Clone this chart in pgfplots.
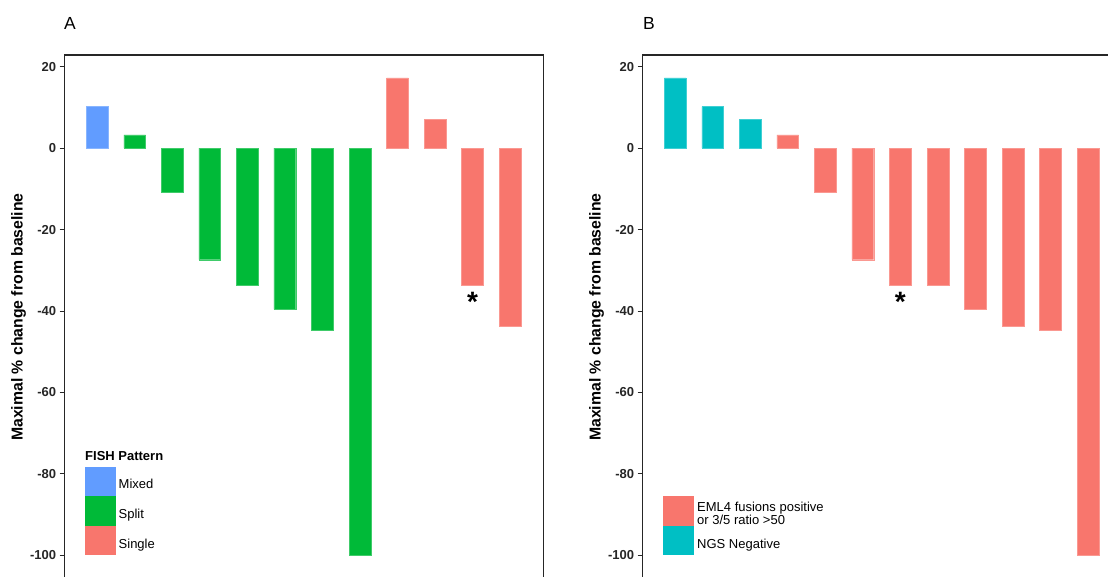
\documentclass[border=0pt]{standalone}
\usepackage{fontspec}
\setmainfont{Liberation Sans}
\usepackage{pgfplots}
\pgfplotsset{compat=1.18}
\definecolor{gblue}{HTML}{619CFF}
\definecolor{ggreen}{HTML}{00BA38}
\definecolor{gred}{HTML}{F8766D}
\definecolor{gcyan}{HTML}{00BFC4}
\pgfplotsset{wf/.style={
  scale only axis, width=478.6pt, height=524.2pt,
  xmin=0.134, xmax=12.887, ymin=-105.9, ymax=22.9,
  xtick=\empty, ytick={-100,-80,...,20},
  axis line style={line width=1.3pt, draw=black!85},
  tick style={line width=1pt, draw=black!85},
  tick align=outside, major tick length=5pt, ytick pos=left,
  /pgf/number format/assume math mode=true,
  yticklabel style={font=\fontsize{13}{15}\selectfont\bfseries, text=black!85},
  ylabel={Maximal \% change from baseline},
  ylabel style={font=\fontsize{15.8}{17}\selectfont\bfseries, at={(axis description cs:-0.0965,0.5)}, anchor=center},
  clip=false,
}}
\begin{document}
\begin{tikzpicture}
\useasboundingbox (0pt,0pt) rectangle (1108pt,-576pt);
% Panel A
\begin{axis}[wf, anchor=north west, at={(64.7pt,-55pt)}]
\addplot[ybar, bar width=0.58, bar shift=0pt, fill=gblue, draw=gblue!75!white, line width=0.4pt] coordinates {(1,10.2)};
\addplot[ybar, bar width=0.58, bar shift=0pt, fill=ggreen, draw=ggreen!75!white, line width=0.4pt] coordinates {(2,3.3) (3,-10.7) (4,-27.4) (5,-33.6) (6,-39.6) (7,-44.7) (8,-100)};
\addplot[ybar, bar width=0.58, bar shift=0pt, fill=gred, draw=gred!75!white, line width=0.4pt] coordinates {(9,17.3) (10,7.1) (11,-33.6) (12,-43.7)};
\node[anchor=base, inner sep=0pt, font=\fontsize{28}{28}\selectfont\bfseries] at (axis cs:11,-40.2) {*};
\end{axis}
% Panel B
\begin{axis}[wf, anchor=north west, at={(642.7pt,-55pt)}]
\addplot[ybar, bar width=0.58, bar shift=0pt, fill=gcyan, draw=gcyan!75!white, line width=0.4pt] coordinates {(1,17.3) (2,10.2) (3,7.1)};
\addplot[ybar, bar width=0.58, bar shift=0pt, fill=gred, draw=gred!75!white, line width=0.4pt] coordinates {(4,3.3) (5,-10.7) (6,-27.4) (7,-33.6) (8,-33.6) (9,-39.6) (10,-43.7) (11,-44.7) (12,-100)};
\node[anchor=base, inner sep=0pt, font=\fontsize{28}{28}\selectfont\bfseries] at (axis cs:7,-40.2) {*};
\end{axis}
% titles
\node[anchor=base west, inner sep=0pt, font=\fontsize{17.5}{18}\selectfont] at (64pt,-29.3pt) {A};
\node[anchor=base west, inner sep=0pt, font=\fontsize{17.5}{18}\selectfont] at (643pt,-29.3pt) {B};
% legend A
\node[anchor=base west, inner sep=0pt, font=\fontsize{13}{15}\selectfont\bfseries] at (85pt,-460.3pt) {FISH Pattern};
\fill[gblue] (85pt,-466.7pt) rectangle (116pt,-496.3pt);
\fill[ggreen] (85pt,-496.3pt) rectangle (116pt,-526pt);
\fill[gred] (85pt,-526pt) rectangle (116pt,-555.3pt);
\node[anchor=base west, inner sep=0pt, font=\fontsize{13}{15}\selectfont] at (118.5pt,-488.3pt) {Mixed};
\node[anchor=base west, inner sep=0pt, font=\fontsize{13}{15}\selectfont] at (118.5pt,-518.6pt) {Split};
\node[anchor=base west, inner sep=0pt, font=\fontsize{13}{15}\selectfont] at (118.5pt,-548.3pt) {Single};
% legend B
\fill[gred] (663pt,-496.3pt) rectangle (694pt,-526pt);
\fill[gcyan] (663pt,-526pt) rectangle (694pt,-555.3pt);
\node[anchor=base west, inner sep=0pt, font=\fontsize{13}{15}\selectfont] at (697pt,-511pt) {EML4 fusions positive};
\node[anchor=base west, inner sep=0pt, font=\fontsize{13}{15}\selectfont] at (697pt,-524.3pt) {or 3/5 ratio >50};
\node[anchor=base west, inner sep=0pt, font=\fontsize{13}{15}\selectfont] at (697pt,-548.3pt) {NGS Negative};
\end{tikzpicture}
\end{document}
